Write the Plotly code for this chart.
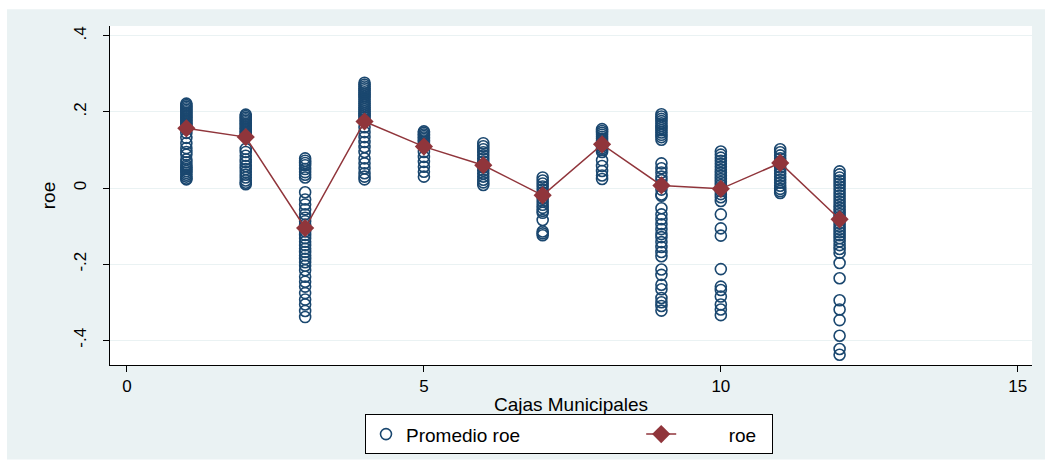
import plotly.graph_objects as go

cajas = [1, 2, 3, 4, 5, 6, 7, 8, 9, 10, 11, 12]

roe_c1 = [0.222, 0.218, 0.214, 0.210, 0.206, 0.202, 0.198, 0.194, 0.190, 0.186, 0.182, 0.178, 0.174,
          0.170, 0.166, 0.162, 0.158, 0.155, 0.145, 0.132, 0.118, 0.105, 0.095, 0.088, 0.075, 0.068,
          0.060, 0.055, 0.050, 0.045, 0.040, 0.035, 0.030, 0.025, 0.023]
roe_c2 = [0.193, 0.189, 0.185, 0.181, 0.177, 0.173, 0.169, 0.165, 0.161, 0.157, 0.153, 0.149, 0.145,
          0.141, 0.138, 0.103, 0.095, 0.085, 0.075, 0.068, 0.058, 0.050, 0.042, 0.035, 0.028, 0.020,
          0.014, 0.010]
roe_c3 = [0.078, 0.072, 0.066, 0.060, 0.050, 0.042, 0.035, 0.028, -0.011, -0.030, -0.043, -0.056,
          -0.069, -0.078, -0.087, -0.096, -0.105, -0.114, -0.123, -0.132, -0.141, -0.150, -0.159,
          -0.168, -0.177, -0.186, -0.195, -0.204, -0.216, -0.233, -0.246, -0.259, -0.276, -0.293,
          -0.306, -0.323, -0.339]
roe_c4 = [0.277, 0.272, 0.267, 0.262, 0.257, 0.252, 0.247, 0.242, 0.237, 0.232, 0.227, 0.222, 0.217,
          0.212, 0.207, 0.202, 0.197, 0.192, 0.187, 0.181, 0.160, 0.147, 0.134, 0.121, 0.108, 0.095,
          0.078, 0.065, 0.052, 0.039, 0.030, 0.023]
roe_c5 = [0.149, 0.145, 0.141, 0.137, 0.133, 0.129, 0.125, 0.121, 0.117, 0.112, 0.095, 0.082, 0.069,
          0.056, 0.043, 0.030]
roe_c6 = [0.118, 0.110, 0.102, 0.094, 0.086, 0.078, 0.070, 0.062, 0.054, 0.046, 0.038, 0.030, 0.022,
          0.015, 0.008]
roe_c7 = [0.028, 0.020, 0.012, 0.004, -0.004, -0.012, -0.020, -0.028, -0.036, -0.044, -0.052, -0.060,
          -0.065, -0.084, -0.114, -0.119, -0.124]
roe_c8 = [0.155, 0.150, 0.145, 0.140, 0.135, 0.130, 0.125, 0.120, 0.115, 0.110, 0.105, 0.100, 0.095,
          0.073, 0.058, 0.045, 0.033, 0.024]
roe_c9 = [0.194, 0.188, 0.182, 0.176, 0.170, 0.164, 0.158, 0.152, 0.146, 0.140, 0.134, 0.127,
          0.065, 0.052, 0.041, 0.030, 0.021, 0.009, -0.004, -0.017, -0.020,
          -0.053, -0.069, -0.082, -0.095, -0.108, -0.121, -0.129, -0.142, -0.155, -0.168, -0.179,
          -0.214, -0.228, -0.254, -0.266, -0.289, -0.300, -0.310, -0.322]
roe_c10 = [0.096, 0.088, 0.080, 0.072, 0.064, 0.056, 0.048, 0.040, 0.032, 0.024, 0.016, 0.008, 0.0,
           -0.008, -0.016, -0.024, -0.034, -0.069, -0.106, -0.125, -0.213, -0.259, -0.268, -0.285,
           -0.306, -0.319, -0.334]
roe_c11 = [0.102, 0.094, 0.086, 0.078, 0.070, 0.062, 0.054, 0.046, 0.038, 0.030, 0.022, 0.014, 0.006,
           -0.002, -0.008, -0.013]
roe_c12 = [0.044, 0.036, 0.028, 0.020, 0.012, 0.004, -0.004, -0.012, -0.020, -0.028, -0.036, -0.044,
           -0.052, -0.060, -0.068, -0.076, -0.084, -0.092, -0.100, -0.108, -0.116, -0.124, -0.132,
           -0.140, -0.150, -0.160, -0.170, -0.197, -0.237, -0.295, -0.319, -0.347, -0.388, -0.423,
           -0.438]

roe_mean = [0.157, 0.134, -0.105, 0.175, 0.109, 0.060, -0.019, 0.115, 0.007, -0.002, 0.066, -0.082]

y_ticks = [-0.4, -0.2, 0, 0.2, 0.4]
y_ticklabels = ["-.4", "-.2", "0", ".2", ".4"]
x_ticks = [0, 5, 10, 15]

groups = [roe_c1, roe_c2, roe_c3, roe_c4, roe_c5, roe_c6, roe_c7, roe_c8, roe_c9, roe_c10, roe_c11, roe_c12]
xs, ys = [], []
for c, vals in zip(cajas, groups):
    xs += [c] * len(vals)
    ys += vals

NAVY = "#1A476F"
MAROON = "#90353B"
BG = "#EAF2F3"
FONT = "Liberation Sans, Arial, sans-serif"
NB = "\u00a0"

fig = go.Figure()
fig.add_trace(go.Scatter(
    x=xs, y=ys, mode="markers", name="Promedio roe" + NB * 22,
    marker=dict(symbol="circle-open", size=11, color=NAVY, line=dict(width=1.6, color=NAVY)),
))
fig.add_trace(go.Scatter(
    x=cajas, y=roe_mean, mode="lines+markers", name=NB * 9 + "roe" + NB * 2,
    line=dict(color=MAROON, width=1.5),
    marker=dict(symbol="diamond", size=14, color=MAROON),
))

L, R, T, B = 110, 20, 26, 96
W, H = 1052, 466
pw, ph = W - L - R, H - T - B

def px_x(p):
    return (p - L) / pw

def px_y(p):
    return (H - B - p) / ph

fig.add_shape(type="rect", xref="paper", yref="paper",
              x0=px_x(7), x1=px_x(1045), y0=px_y(466), y1=px_y(9),
              fillcolor=BG, line=dict(width=0), layer="below")
fig.add_shape(type="rect", xref="paper", yref="paper",
              x0=0, x1=1, y0=0, y1=1,
              fillcolor="white", line=dict(width=0), layer="below")

fig.update_layout(
    width=W, height=H,
    margin=dict(l=L, r=R, t=T, b=B),
    paper_bgcolor="white", plot_bgcolor="white",
    font=dict(family=FONT, color="black"),
    showlegend=True,
    legend=dict(
        orientation="h", x=px_x(365), xanchor="left", y=px_y(420), yanchor="top",
        bgcolor="white", bordercolor="black", borderwidth=1,
        font=dict(size=19, family=FONT),
    ),
    xaxis=dict(
        range=[-0.286, 15.24], tickvals=x_ticks, ticks="outside", ticklen=6,
        tickcolor="black", showline=True, linecolor="black", linewidth=1,
        showgrid=False, zeroline=False, tickfont=dict(size=17),
        title=dict(text="Cajas Municipales", font=dict(size=19), standoff=2),
    ),
    yaxis=dict(
        range=[-0.465, 0.426], tickvals=y_ticks, ticktext=y_ticklabels, tickangle=-90,
        ticks="outside", ticklen=6, tickcolor="black", showline=True, linecolor="black",
        linewidth=1, showgrid=True, gridcolor=BG, gridwidth=1, zeroline=False,
        tickfont=dict(size=17), ticklabelstandoff=10,
        title=dict(text="roe", font=dict(size=19), standoff=10),
    ),
)

fig.write_html("out.html")
